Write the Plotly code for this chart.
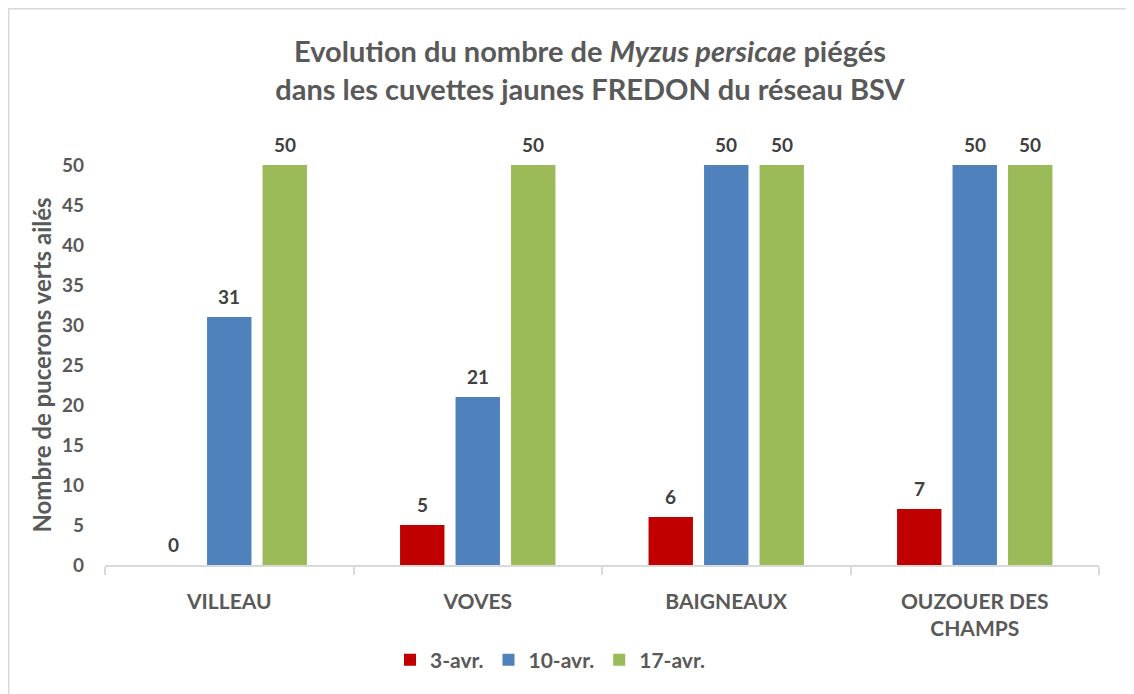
import plotly.graph_objects as go

categories = ["VILLEAU", "VOVES", "BAIGNEAUX", "OUZOUER DES<br>CHAMPS"]
series_names = ["3-avr.", "10-avr.", "17-avr."]
v_3avr = [0, 5, 6, 7]
v_10avr = [31, 21, 50, 50]
v_17avr = [50, 50, 50, 50]
colors = ["#C00000", "#4F81BD", "#9BBB59"]
y_ticks = [0, 5, 10, 15, 20, 25, 30, 35, 40, 45, 50]

FONT = "Lato"
GRAY = "#595959"
OFF = 8  # default page body margin
W, H = 1134 - OFF, 694 - OFF
# plot area in page pixels: x 105..1099, y 165..565
L = 105 - OFF
R = W - (1099 - OFF)
T = 165 - OFF
B = H - (565 - OFF)
pw = W - L - R
ph = H - T - B

series = [v_3avr, v_10avr, v_17avr]
fig = go.Figure()
for name, vals, col in zip(series_names, series, colors):
    fig.add_trace(go.Bar(
        x=categories, y=vals, name=f"<b>{name}</b>", marker_color=col,
        marker_line_width=0,
    ))

cat_w = pw / len(categories)
bargap = 0.33
slot = cat_w * (1 - bargap) / 3
for i, vals in enumerate(series):
    for c, v in zip(categories, vals):
        fig.add_annotation(
            x=c, y=v, xref="x", yref="y", text=f"<b>{v}</b>",
            showarrow=False, xshift=(i - 1) * slot, yshift=21,
            yanchor="middle", xanchor="center",
            font=dict(family=FONT, size=19, color="#404040"),
        )

def px_x(px):  # page px -> paper
    return (px - OFF - L) / pw

def px_y(py):
    return (H - B - (py - OFF)) / ph

# chart border (top and left visible)
fig.add_shape(type="line", xref="paper", yref="paper",
              x0=px_x(8), x1=px_x(1140), y0=px_y(8.75), y1=px_y(8.75),
              line=dict(color="#D9D9D9", width=1.5))
fig.add_shape(type="line", xref="paper", yref="paper",
              x0=px_x(8.75), x1=px_x(8.75), y0=px_y(8), y1=px_y(700),
              line=dict(color="#D9D9D9", width=1.5))

fig.update_layout(
    width=W, height=H,
    margin=dict(l=L, r=R, t=T, b=B, autoexpand=False),
    paper_bgcolor="white", plot_bgcolor="white",
    barmode="group", bargap=bargap, bargroupgap=0.2,
    font=dict(family=FONT, color=GRAY),
    title=dict(
        text="<b>Evolution du nombre de <i>Myzus persicae</i> piégés<br>dans les cuvettes jaunes FREDON du réseau BSV</b>",
        x=px_x(590), xref="paper", xanchor="center",
        y=1 - (62 - OFF) / H, yref="container", yanchor="middle",
        font=dict(family=FONT, size=29, color=GRAY),
    ),
    legend=dict(
        orientation="h", x=px_x(550), xanchor="center",
        y=px_y(660), yanchor="middle",
        font=dict(family=FONT, size=21, color=GRAY),
        itemwidth=30, tracegroupgap=0,
    ),
    showlegend=True,
)
fig.update_xaxes(
    showline=True, linecolor="#D9D9D9", linewidth=1.5,
    ticks="outside", tickson="boundaries", ticklen=8, tickcolor="#D9D9D9", tickwidth=1.5,
    tickfont=dict(family=FONT, size=21, color=GRAY, weight="bold"),
    ticklabelstandoff=17, showgrid=False,
)
fig.update_yaxes(
    range=[0, 50], tickvals=y_ticks, showgrid=False, showline=False, zeroline=False,
    tickfont=dict(family=FONT, size=19, color=GRAY, weight="bold"),
    ticklabelstandoff=20,
    title=dict(text="<b>Nombre de pucerons verts ailés</b>",
               font=dict(family=FONT, size=24, color=GRAY), standoff=3),
)

fig.write_html("out.html")
